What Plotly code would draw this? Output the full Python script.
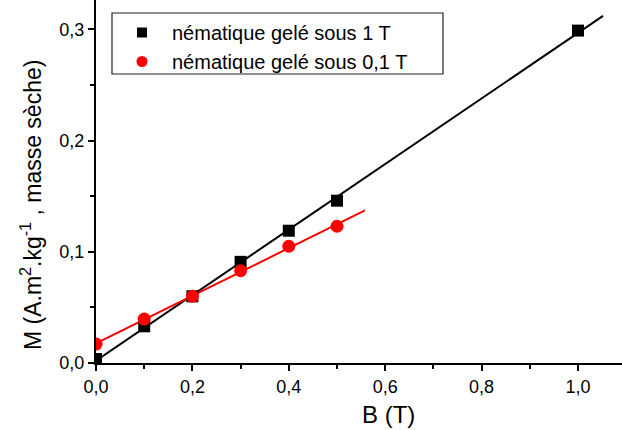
import numpy as np
import plotly.graph_objects as go

# ---- data ----
B_1T = [0.0, 0.1, 0.2, 0.3, 0.4, 0.5, 1.0]
M_1T = [0.0036, 0.033, 0.060, 0.091, 0.119, 0.146, 0.299]

B_01T = [0.0, 0.1, 0.2, 0.3, 0.4, 0.5]
M_01T = [0.017, 0.0395, 0.060, 0.083, 0.105, 0.123]

FIT_RANGE_1T = [0.0, 1.052]
FIT_RANGE_01T = [0.0, 0.558]

NAME_1T = "nématique gelé sous 1 T"
NAME_01T = "nématique gelé sous 0,1 T"

X_TICKS = [0.0, 0.2, 0.4, 0.6, 0.8, 1.0]
Y_TICKS = [0.0, 0.1, 0.2, 0.3]

FONT = "Arial, 'Liberation Sans', sans-serif"
RED = "#ff0000"

p1 = np.polyfit(B_1T, M_1T, 1)
p2 = np.polyfit(B_01T, M_01T, 1)
fx1 = np.array(FIT_RANGE_1T)
fx2 = np.array(FIT_RANGE_01T)

fig = go.Figure()
fig.add_trace(go.Scatter(x=fx1, y=np.polyval(p1, fx1), mode="lines",
                         line=dict(color="black", width=2), showlegend=False))
fig.add_trace(go.Scatter(x=fx2, y=np.polyval(p2, fx2), mode="lines",
                         line=dict(color=RED, width=2), showlegend=False))
fig.add_trace(go.Scatter(x=B_1T, y=M_1T, mode="markers",
                         marker=dict(symbol="square", size=12, color="black"),
                         showlegend=False))
fig.add_trace(go.Scatter(x=B_01T, y=M_01T, mode="markers",
                         marker=dict(symbol="circle", size=13, color=RED),
                         showlegend=False))
# legend-only entries
fig.add_trace(go.Scatter(x=[None], y=[None], mode="markers", name=NAME_1T,
                         marker=dict(symbol="square", size=10, color="black")))
fig.add_trace(go.Scatter(x=[None], y=[None], mode="markers", name=NAME_01T,
                         marker=dict(symbol="circle", size=11, color=RED)))

L, T = 96, 0
W, H = 622, 430
PW, PH = W - L, 363

def px(xp):
    return (xp - L) / PW

def py(yp):
    return 1 - yp / PH

fig.update_layout(
    width=W, height=H,
    margin=dict(l=L, r=0, t=T, b=H - PH, pad=0),
    paper_bgcolor="white", plot_bgcolor="white",
    separators=", ",
    font=dict(family=FONT, size=18, color="black"),
    showlegend=True,
    legend=dict(x=px(112), y=py(13), xanchor="left", yanchor="top",
                bgcolor="rgba(0,0,0,0)", borderwidth=0,
                font=dict(family=FONT, size=20, color="black"),
                itemwidth=50, tracegroupgap=0),
    xaxis=dict(range=[0, (W - L) / 482.0], tickvals=X_TICKS,
               tickformat=".1f", showgrid=False, zeroline=False,
               showline=True, linecolor="black", linewidth=2,
               ticks="outside", ticklen=6, tickwidth=2, tickcolor="black",
               minor=dict(dtick=0.1, tick0=0, ticks="outside", ticklen=4,
                          tickwidth=2, tickcolor="black", showgrid=False),
               tickfont=dict(size=18)),
    yaxis=dict(range=[0, 0.3 + 29.5 / 1112.0], tickvals=Y_TICKS,
               tickformat=".1f", showgrid=False, zeroline=False,
               showline=True, linecolor="black", linewidth=2,
               ticks="outside", ticklen=6, tickwidth=2, tickcolor="black",
               minor=dict(dtick=0.05, tick0=0, ticks="outside", ticklen=4,
                          tickwidth=2, tickcolor="black", showgrid=False),
               tickfont=dict(size=18)),
    shapes=[dict(type="rect", xref="paper", yref="paper",
                 x0=px(112), x1=px(443), y0=py(74), y1=py(13),
                 line=dict(color="#222222", width=1.2), fillcolor="rgba(0,0,0,0)")],
    annotations=[
        dict(text="B (T)", x=0.606, xref="x", y=py(415), yref="paper",
             xanchor="center", yanchor="middle", showarrow=False,
             font=dict(family=FONT, size=24, color="black")),
        dict(text="M (A.m<sup>2</sup>.kg<sup>-1</sup> , masse sèche)",
             x=px(31), xref="paper", y=py(205), yref="paper",
             xanchor="center", yanchor="middle", textangle=-90, showarrow=False,
             font=dict(family=FONT, size=23, color="black")),
    ],
)

fig.write_html(
    "out.html",
    config={"displayModeBar": False},
    post_script="document.body.style.margin='0';document.body.style.padding='0';"
                "document.body.style.overflow='hidden';",
)
